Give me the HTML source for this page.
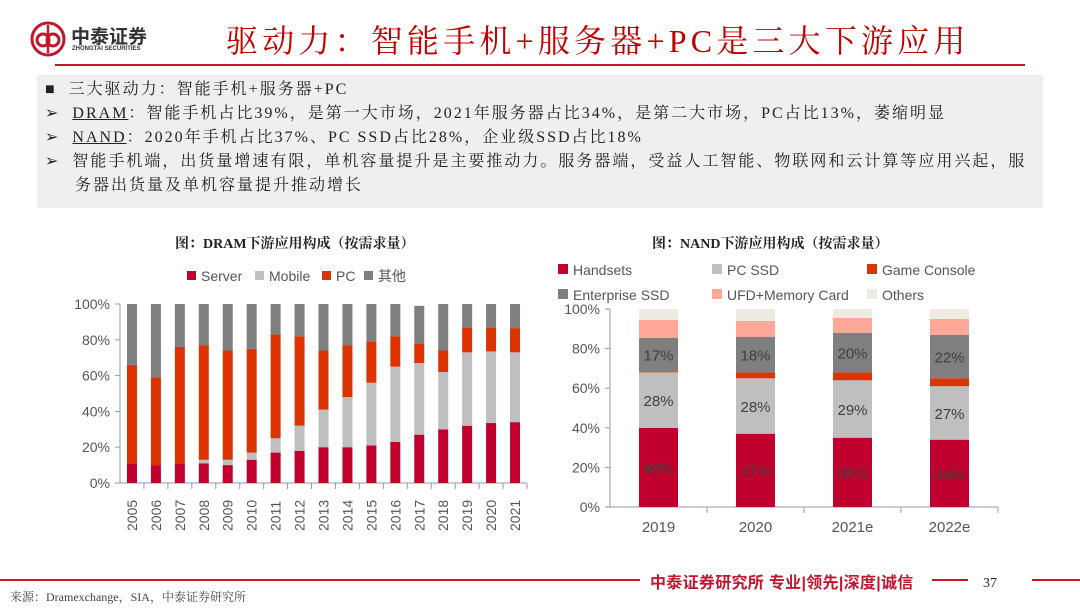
<!DOCTYPE html>
<html><head><meta charset="utf-8">
<style>
body{margin:0;width:1080px;height:608px;background:#fff;overflow:hidden;position:relative;font-family:"Liberation Serif","Noto Serif CJK SC",serif;}
.abs{position:absolute;}
.bul{font-size:16px;color:#222;line-height:24px;letter-spacing:2px;white-space:nowrap;}
</style></head><body>
<div class="abs" style="left:30px;top:21px;width:130px;height:36px;">
<svg width="36" height="36" viewBox="0 0 36 36"><circle cx="18" cy="18" r="16" fill="none" stroke="#c0172d" stroke-width="3"/><circle cx="13" cy="19" r="6" fill="none" stroke="#c0172d" stroke-width="3"/><circle cx="23" cy="19" r="6" fill="none" stroke="#c0172d" stroke-width="3"/><line x1="18" y1="4" x2="18" y2="32" stroke="#c0172d" stroke-width="2.5"/></svg>
<div class="abs" style="left:41px;top:1px;font-family:'Liberation Sans','Noto Sans CJK SC',sans-serif;font-weight:bold;font-size:19px;color:#333;">中泰证券</div>
<div class="abs" style="left:42px;top:25px;font-family:'Liberation Sans',sans-serif;font-weight:bold;font-size:6px;color:#333;white-space:nowrap;">ZHONGTAI SECURITIES</div>
</div>
<div class="abs" style="left:226px;top:16px;font-size:32px;color:#c00000;letter-spacing:4.2px;font-family:'Liberation Serif','Noto Serif CJK SC',serif;white-space:nowrap;">驱动力：智能手机+服务器+PC是三大下游应用</div>
<div class="abs" style="left:55px;top:64px;width:970px;height:2px;background:#c0172d;"></div>
<div class="abs" style="left:37px;top:75px;width:1006px;height:133px;background:#efefef;">
<div class="bul abs" style="left:8px;top:3px;">■&nbsp; 三大驱动力：智能手机+服务器+PC</div>
<div class="bul abs" style="left:8px;top:27px;">➢&nbsp; <u>DRAM</u>：智能手机占比39%，是第一大市场，2021年服务器占比34%，是第二大市场，PC占比13%，萎缩明显</div>
<div class="bul abs" style="left:8px;top:51px;">➢&nbsp; <u>NAND</u>：2020年手机占比37%、PC SSD占比28%，企业级SSD占比18%</div>
<div class="bul abs" style="left:8px;top:75px;">➢&nbsp; 智能手机端，出货量增速有限，单机容量提升是主要推动力。服务器端，受益人工智能、物联网和云计算等应用兴起，服<br>&nbsp;&nbsp;&nbsp;&nbsp;&nbsp;务器出货量及单机容量提升推动增长</div>
</div>
<div class="abs" style="left:175px;top:233px;font-size:14px;font-weight:bold;color:#222;">图：DRAM下游应用构成（按需求量）</div>
<div class="abs" style="left:652px;top:233px;font-size:14px;font-weight:bold;color:#222;">图：NAND下游应用构成（按需求量）</div>
<svg class="abs" style="left:0;top:0" width="1080" height="608" id="charts"></svg>
<div class="abs" style="left:0;top:579px;width:640px;height:2px;background:#c0172d;"></div>
<div class="abs" style="left:650px;top:569px;font-family:'Liberation Sans','Noto Sans CJK SC',sans-serif;font-weight:bold;font-size:16px;color:#c0172d;white-space:nowrap;letter-spacing:0.3px;">中泰证券研究所 专业|领先|深度|诚信</div>
<div class="abs" style="left:932px;top:579px;width:36px;height:2px;background:#c0172d;"></div>
<div class="abs" style="left:983px;top:576px;font-size:14px;color:#222;">37</div>
<div class="abs" style="left:1032px;top:579px;width:48px;height:2px;background:#c0172d;"></div>
<div class="abs" style="left:10px;top:588px;font-size:12px;color:#444;">来源：Dramexchange，SIA，中泰证券研究所</div>
<script>
const dramYears=["2005","2006","2007","2008","2009","2010","2011","2012","2013","2014","2015","2016","2017","2018","2019","2020","2021"];
const dramServer=[11,10,11,11,10,13,17,18,20,20,21,23,27,30,32,33.5,34];
const dramMobile=[0,0,0,2,3,4,8,14,21,28,35,42,40,32,41,40,39];
const dramPC=[55,49,65,64,61,58,58,50,33,29,23,17,11,12,14,13.5,13.5];
const dramOther=[34,41,24,23,26,25,17,18,26,23,21,18,21,26,13,13,13.5];
const yTicks=["0%","20%","40%","60%","80%","100%"];
const nandYears=["2019","2020","2021e","2022e"];
const nandHandsets=[40,37,35,34];
const nandPCSSD=[28,28,29,27];
const nandGame=[0.5,3,4,4];
const nandEnt=[17,18,20,22];
const nandUFD=[9,8,7.5,8];
const nandOthers=[5.5,6,4.5,5];
const NS="http://www.w3.org/2000/svg";
const svg=document.getElementById('charts');
function mk(tag,attrs,parent){const e=document.createElementNS(NS,tag);for(const k in attrs)e.setAttribute(k,attrs[k]);(parent||svg).appendChild(e);return e;}
const SANS='"Liberation Sans",sans-serif';
const L={x0:120,x1:527,y0:483,y1:304};
function lyv(v){return L.y0-(L.y0-L.y1)*v/100;}
const lStep=(L.x1-L.x0)/dramYears.length;
const lx=i=>L.x0+lStep*(i+0.5);
const gL=mk('g',{});


yTicks.forEach((t,i)=>{const v=i*20;const tx=mk('text',{x:L.x0-10,y:lyv(v)+5,'text-anchor':'end','font-size':14,fill:'#555','font-family':SANS},gL);tx.textContent=t;
mk('line',{x1:L.x0-5,x2:L.x0,y1:lyv(v),y2:lyv(v),stroke:'#999'},gL);});
mk('line',{x1:L.x0,x2:L.x0,y1:L.y1,y2:L.y0,stroke:'#999'},gL);
mk('line',{x1:L.x0,x2:L.x1,y1:L.y0,y2:L.y0,stroke:'#999'},gL);
const dSeries=[[dramServer,'#c0002d','server'],[dramMobile,'#bfbfbf','mobile'],[dramPC,'#dd3300','pc'],[dramOther,'#7f7f7f','other']];
dramYears.forEach((y,i)=>{let acc=0;const bw=10;
dSeries.forEach(([arr,c,n])=>{const v=arr[i];if(v>0){const r=mk('rect',{x:lx(i)-bw/2,y:lyv(acc+v),width:bw,height:lyv(acc)-lyv(acc+v),fill:c},gL);}acc+=v;});
mk('line',{x1:L.x0+lStep*(i+1),x2:L.x0+lStep*(i+1),y1:L.y0,y2:L.y0+6,stroke:'#999'},gL);
const t=mk('text',{transform:`translate(${lx(i)+5},${L.y0+48}) rotate(-90)`,'font-size':14,fill:'#555','font-family':SANS},gL);t.textContent=y;});
const dLeg=[['Server','#c0002d',187],['Mobile','#bfbfbf',255],['PC','#dd3300',322],['其他','#7f7f7f',364]];
dLeg.forEach(([n,c,x])=>{const g=mk('g',{},gL);mk('rect',{x:x,y:271,width:9,height:9,fill:c},g);const t=mk('text',{x:x+14,y:281,'font-size':14,fill:'#555','font-family':'"Liberation Sans","Noto Sans CJK SC",sans-serif'},g);t.textContent=n;});
const R={x0:610,x1:998,y0:507,y1:309};
const ry=v=>R.y0-(R.y0-R.y1)*v/100;
const rStep=(R.x1-R.x0)/nandYears.length;
const rx=i=>R.x0+rStep*(i+0.5);
const gR=mk('g',{});


yTicks.forEach((t,i)=>{const v=i*20;const tx=mk('text',{x:R.x0-10,y:ry(v)+5,'text-anchor':'end','font-size':14,fill:'#555','font-family':SANS},gR);tx.textContent=t;
mk('line',{x1:R.x0-5,x2:R.x0,y1:ry(v),y2:ry(v),stroke:'#999'},gR);});
mk('line',{x1:R.x0,x2:R.x0,y1:R.y1,y2:R.y0,stroke:'#999'},gR);
mk('line',{x1:R.x0,x2:R.x1,y1:R.y0,y2:R.y0,stroke:'#999'},gR);
const nSeries=[[nandHandsets,'#c0002d','handsets',true],[nandPCSSD,'#bfbfbf','pc-ssd',true],[nandGame,'#dd3300','game-console',false],[nandEnt,'#7f7f7f','enterprise-ssd',true],[nandUFD,'#ffa897','ufd',false],[nandOthers,'#eeebe2','others',false]];
nandYears.forEach((y,i)=>{let acc=0;const bw=39;
nSeries.forEach(([arr,c,n,lab])=>{const v=arr[i];const r=mk('rect',{x:rx(i)-bw/2,y:ry(acc+v),width:bw,height:ry(acc)-ry(acc+v),fill:c},gR);
if(lab){const t=mk('text',{x:rx(i),y:ry(acc+v/2)+6,'text-anchor':'middle','font-size':15,fill:'#404040','font-family':SANS},gR);t.textContent=Math.round(v)+'%';}
acc+=v;});
mk('line',{x1:R.x0+rStep*(i+1),x2:R.x0+rStep*(i+1),y1:R.y0,y2:R.y0+6,stroke:'#999'},gR);
const t=mk('text',{x:rx(i),y:R.y0+25,'text-anchor':'middle','font-size':15,fill:'#555','font-family':SANS},gR);t.textContent=y;});
const nLeg=[['Handsets','#c0002d',558,275],['PC SSD','#bfbfbf',712,275],['Game Console','#dd3300',867,275],['Enterprise SSD','#7f7f7f',558,300],['UFD+Memory Card','#ffa897',712,300],['Others','#eeebe2',867,300]];
nLeg.forEach(([n,c,x,y])=>{const g=mk('g',{},gR);mk('rect',{x:x,y:y-11,width:10,height:10,fill:c},g);const t=mk('text',{x:x+15,y:y,'font-size':14,fill:'#555','font-family':SANS},g);t.textContent=n;});
</script>
</body></html>
